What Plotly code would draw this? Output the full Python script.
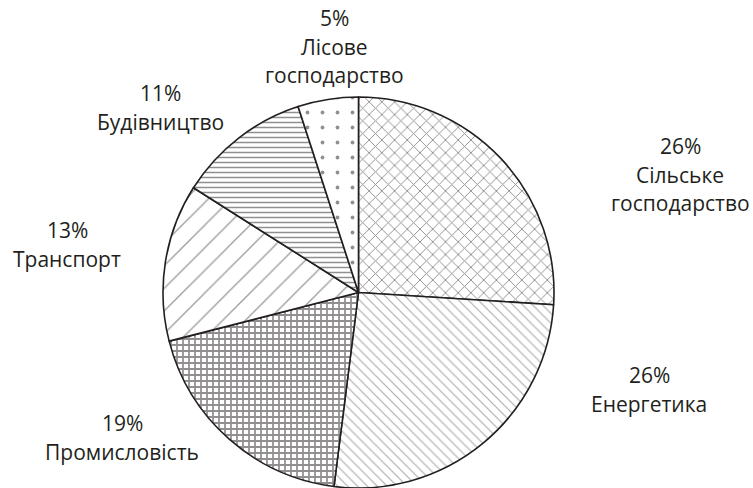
import plotly.graph_objects as go

# Data
labels = ["Сільське господарство", "Енергетика", "Промисловість",
          "Транспорт", "Будівництво", "Лісове господарство"]
values = [26, 26, 19, 13, 11, 5]
label_lines = [["Сільське", "господарство"], ["Енергетика"], ["Промисловість"],
               ["Транспорт"], ["Будівництво"], ["Лісове", "господарство"]]

# Styles
W, H = 753, 488
shapes_pat = ["x", "\\", "+", "/", "-", "."]
sizes_pat = [9, 7, 6, 16, 5, 15]
solid_pat = [0.2, 0.17, 0.5, 0.08, 0.3, 0.05]
fg_pat = ["#231f20", "#5a5a5a", "#231f20", "#333333", "#231f20", "#231f20"]
# label anchor (center of first line, px) and line spacing
label_pos = [(680, 146), (649, 375), (122, 423), (67, 230), (160, 93), (334, 18)]
line_gap = 28.5
text_color = "#231f20"
font_family = "Open Sans, Noto Sans, sans-serif"
font_size = 21

cx, cy, r = 358.5, 292.5, 195.5

fig = go.Figure(go.Pie(
    labels=labels,
    values=values,
    sort=False,
    direction="clockwise",
    rotation=0,
    textinfo="none",
    hoverinfo="label+percent",
    showlegend=False,
    marker=dict(
        colors=["white"] * len(values),
        line=dict(color="#231f20", width=1.6),
        pattern=dict(shape=shapes_pat, size=sizes_pat, solidity=solid_pat,
                     fgcolor=fg_pat, bgcolor="white", fillmode="overlay"),
    ),
    domain=dict(x=[(cx - r) / W, (cx + r) / W], y=[(H - cy - r) / H, (H - cy + r) / H]),
))

annotations = []
total = sum(values)
for v, lines, (px, py) in zip(values, label_lines, label_pos):
    texts = [f"{round(100 * v / total)}%"] + lines
    for i, t in enumerate(texts):
        annotations.append(dict(
            x=px / W, y=1 - (py + i * line_gap) / H,
            xref="paper", yref="paper",
            text=t, showarrow=False, xanchor="center", yanchor="middle",
            borderpad=0,
            font=dict(family=font_family, size=font_size, color=text_color),
        ))

fig.update_layout(
    width=W, height=H,
    margin=dict(l=0, r=0, t=0, b=0),
    paper_bgcolor="white", plot_bgcolor="white",
    annotations=annotations,
)

fig.write_html("out.html", config={"displayModeBar": False},
               post_script="document.body.style.margin='0px';document.body.style.overflow='hidden';")
